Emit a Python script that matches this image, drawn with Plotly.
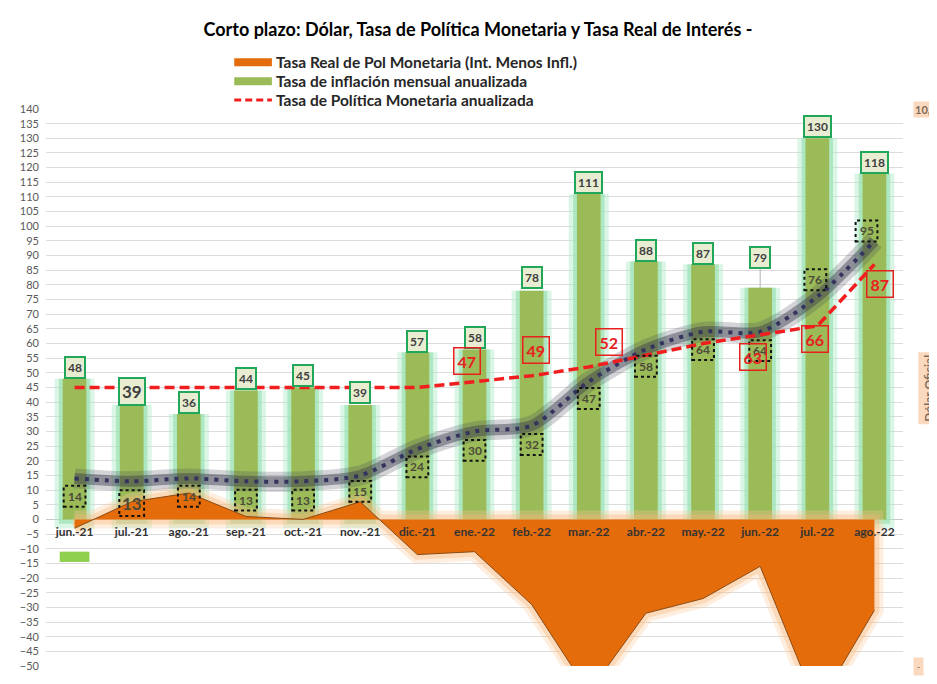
import plotly.graph_objects as go

# --- datos ---
meses = ["jun.-21", "jul.-21", "ago.-21", "sep.-21", "oct.-21", "nov.-21", "dic.-21",
         "ene.-22", "feb.-22", "mar.-22", "abr.-22", "may.-22", "jun.-22", "jul.-22", "ago.-22"]
inflacion = [48, 39, 36, 44, 45, 39, 57, 58, 78, 111, 88, 87, 79, 130, 118]
tpm = [45, 45, 45, 45, 45, 45, 45, 47, 49, 52, 56, 60, 63, 66, 87]
tasa_real = [-3, 6, 9, 1, 0, 6, -12, -11, -29, -59, -32, -27, -16, -64, -31]
dolar = [14, 13, 14, 13, 13, 15, 24, 30, 32, 47, 58, 64, 64, 76, 95]
tpm_etiquetas = [7, 8, 9, 12, 13, 14]  # índices con etiqueta roja

# --- geometría (px); la página deja 8px de margen en el body ---
OFF = 8
FW, FH = 937 - OFF, 684 - OFF
L, R, T, B = 38 - OFF, 34, 109 - OFF, 14
W, H = FW - L - R, FH - T - B
Y0, Y1 = -50, 140
PX_X = W / len(meses)
PX_Y = H / (Y1 - Y0)


def px(xp):
    # coordenada x de la ventana -> papel
    return (xp - OFF - L) / W


def py(yp):
    # coordenada y de la ventana -> papel
    return (FH - B - (yp - OFF)) / H


idx = list(range(len(meses)))

# desplazamientos de etiquetas (px, positivo hacia arriba)
infl_dy = [11, 14, 11, 12, 12, 13, 11, 12, 13, 12, 11, 11, 30, 12, 11]
infl_size = [12, 17, 12, 12, 12, 12, 12, 12, 12, 12, 12, 12, 12, 12, 12]
dolar_dy = [-18, -22, -18, -19, -19, -16, -18, -19, -19, -17, -17, -18, -19, 17, 10]
dolar_dx = [0, 0, 0, 0, 0, 0, 0, 0, 0, 0, 0, 0, 0, -2, -8]
dolar_size = [12, 17, 12, 12, 12, 12, 12, 12, 12, 12, 12, 12, 12, 12, 12]
tpm_dxdy = {7: (-8, 21), 8: (4, 26), 9: (20, 25), 12: (-7, -22), 13: (-2, -13), 14: (6, -20)}

FONT = "Lato"
fig = go.Figure()

# tasa real: halo + área
for w_, c_ in [(18, "rgba(252,200,150,0.30)"), (10, "rgba(250,180,115,0.35)")]:
    fig.add_trace(go.Scatter(
        x=idx + idx[::-1], y=tasa_real + [0] * len(idx),
        mode="lines", line=dict(color=c_, width=w_),
        hoverinfo="skip", showlegend=False))
fig.add_trace(go.Scatter(
    x=idx, y=tasa_real, mode="lines", fill="tozeroy",
    fillcolor="#E46C0A", line=dict(color="#8A4A16", width=1),
    name="Tasa Real de Pol Monetaria (Int. Menos Infl.)", showlegend=False))

# inflación: halo + barras
fig.add_trace(go.Bar(
    x=idx, y=[v + 3 for v in inflacion], base=-3, width=0.70,
    marker=dict(color="rgba(175,236,200,0.45)", line_width=0),
    hoverinfo="skip", showlegend=False))
fig.add_trace(go.Bar(
    x=idx, y=[v + 1.5 for v in inflacion], base=-1.5, width=0.55,
    marker=dict(color="rgba(150,225,175,0.65)", line_width=0),
    hoverinfo="skip", showlegend=False))
fig.add_trace(go.Bar(
    x=idx, y=inflacion, width=0.415,
    marker=dict(color="#9BBB59", line_width=0),
    name="Tasa de inflación mensual anualizada", showlegend=False))

# dólar: sombra + línea punteada
for w_, c_ in [(20, "rgba(60,60,78,0.22)"), (11, "rgba(60,60,78,0.45)")]:
    fig.add_trace(go.Scatter(
        x=idx, y=dolar, mode="lines", line=dict(color=c_, width=w_, shape="spline", smoothing=0.8),
        hoverinfo="skip", showlegend=False))
fig.add_trace(go.Scatter(
    x=idx, y=dolar, mode="lines",
    line=dict(color="#34345E", width=4, dash="4px,6px", shape="spline", smoothing=0.8),
    showlegend=False))

# TPM
fig.add_trace(go.Scatter(
    x=idx, y=tpm, mode="lines", line=dict(color="#F01E1E", width=3.5, dash="10px,5px"),
    name="Tasa de Política Monetaria anualizada", showlegend=False))

annotations = []
shapes = []

# etiquetas inflación
for i in idx:
    a = dict(x=i, y=inflacion[i], xref="x", yref="y", text=str(inflacion[i]),
             font=dict(family=FONT, size=infl_size[i], color="#404040", weight="bold"),
             bgcolor="#E8EDD2", bordercolor="#22A65A", borderwidth=2, borderpad=2)
    if infl_dy[i] > 20:
        a.update(showarrow=True, arrowhead=0, arrowwidth=1, arrowcolor="#B0B0B0",
                 ax=0, ay=-infl_dy[i], standoff=0)
    else:
        a.update(showarrow=False, yshift=infl_dy[i])
    annotations.append(a)

# etiquetas dólar (recuadro punteado)
for i in idx:
    cx = i + dolar_dx[i] / PX_X
    cy = dolar[i] + dolar_dy[i] / PX_Y
    annotations.append(dict(
        x=cx, y=cy, xref="x", yref="y", text=str(dolar[i]), showarrow=False,
        font=dict(family=FONT, size=dolar_size[i], color="#4A4A3A", weight="bold")))
    big = dolar_size[i] > 14
    hw = (12.5 if big else 11) / PX_X
    hh = (13 if big else 10.5) / PX_Y
    shapes.append(dict(type="rect", xref="x", yref="y", x0=cx - hw, x1=cx + hw,
                       y0=cy - hh, y1=cy + hh, line=dict(color="#111111", width=2, dash="dot")))

# etiquetas TPM
for i in tpm_etiquetas:
    dx, dy = tpm_dxdy[i]
    annotations.append(dict(
        x=i, y=tpm[i], xref="x", yref="y", text=str(tpm[i]), showarrow=False,
        xshift=dx, yshift=dy,
        font=dict(family=FONT, size=16, color="#E8201E", weight="bold"),
        bordercolor="#E8201E", borderwidth=1.5, borderpad=3))

# etiqueta recortada bajo jun.-21
shapes.append(dict(type="rect", xref="x", yref="y", x0=-0.26, x1=0.26, y0=-14.5, y1=-11,
                   fillcolor="#8FD04E", line_width=0))

# leyenda manual
leyenda = [("Tasa Real de Pol Monetaria (Int. Menos Infl.)", "rect", "#E46C0A"),
           ("Tasa de inflación mensual anualizada", "rect", "#9BBB59"),
           ("Tasa de Política Monetaria anualizada", "dash", "#F01E1E")]
for k, (txt, kind, col) in enumerate(leyenda):
    yc = 62 + k * 19
    if kind == "rect":
        shapes.append(dict(type="rect", xref="paper", yref="paper", x0=px(228), x1=px(266),
                           y0=py(yc + 4), y1=py(yc - 4), fillcolor=col, line_width=0))
    else:
        shapes.append(dict(type="line", xref="paper", yref="paper", x0=px(228), x1=px(266),
                           y0=py(yc), y1=py(yc), line=dict(color=col, width=3, dash="7px,4px")))
    annotations.append(dict(x=px(268), y=py(yc), xref="paper", yref="paper", text=txt,
                            showarrow=False, xanchor="left", yanchor="middle",
                            font=dict(family=FONT, size=15.5, color="#262626", weight="bold")))

# eje derecho (restos)
annotations += [
    dict(x=px(913), y=py(109), xref="paper", yref="paper", text="10,000", showarrow=False,
         xanchor="left", yanchor="middle", bgcolor="#FBD9BE",
         font=dict(family=FONT, size=11, color="#7F6A5A", weight="bold")),
    dict(x=px(929), y=py(390), xref="paper", yref="paper", text="Dólar Oficial", showarrow=False,
         textangle=-90, xanchor="center", yanchor="middle", bgcolor="#FBD9BE", borderpad=2,
         font=dict(family=FONT, size=12, color="#7F6A5A", weight="bold")),
    dict(x=px(919), y=py(670), xref="paper", yref="paper", text="-", showarrow=False,
         xanchor="center", yanchor="middle", bgcolor="#FBD9BE", borderpad=3,
         font=dict(family=FONT, size=9, color="#7F6A5A")),
]

fig.update_layout(
    width=FW, height=FH,
    margin=dict(l=L, r=R, t=T, b=B),
    paper_bgcolor="white", plot_bgcolor="white",
    barmode="overlay",
    title=dict(text="Corto plazo: Dólar, Tasa de Política Monetaria y Tasa Real de Interés -",
               x=px(474), xref="paper", xanchor="center", y=1 - (30 - OFF) / FH, yanchor="middle",
               font=dict(family=FONT, size=18, color="#000000", weight="bold")),
    xaxis=dict(tickmode="array", tickvals=idx, ticktext=meses, range=[-0.5, len(meses) - 0.5],
               anchor="free", position=(0 - Y0) / (Y1 - Y0), showgrid=False, showline=False,
               ticks="", zeroline=False, ticklabelstandoff=4,
               tickfont=dict(family=FONT, size=12, color="#333333", weight="bold")),
    yaxis=dict(range=[Y0, Y1], dtick=5, tick0=0, showgrid=True, gridcolor="#DCDCDC", gridwidth=1,
               zeroline=True, zerolinecolor="#C8C8C8", zerolinewidth=1, ticks="",
               ticklabelstandoff=6,
               tickfont=dict(family=FONT, size=11, color="#595959")),
    annotations=annotations,
    shapes=shapes,
    showlegend=False,
)

fig.write_html("out.html")
